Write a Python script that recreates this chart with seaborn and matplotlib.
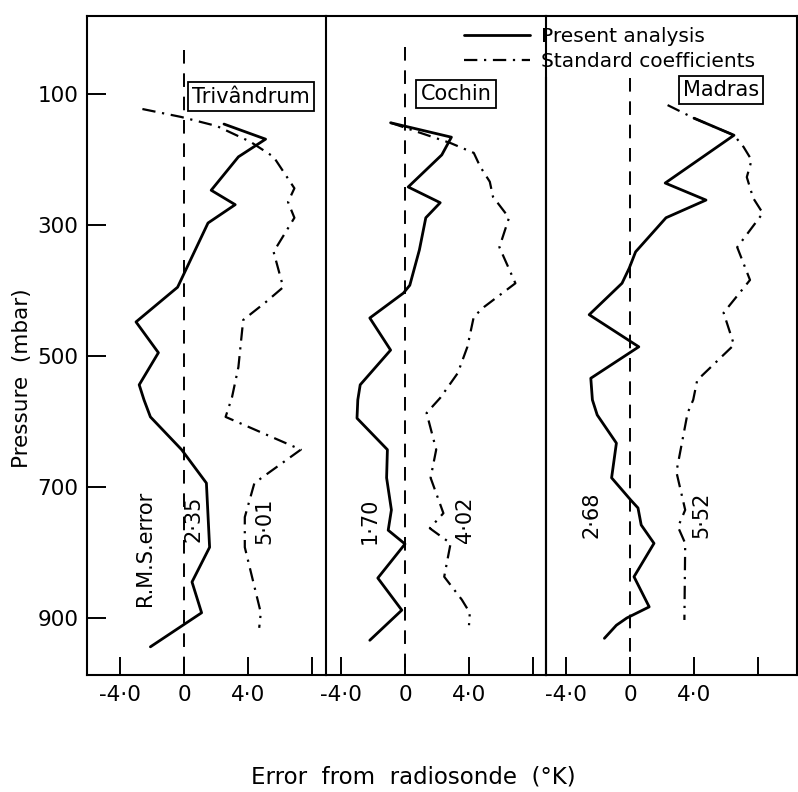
import numpy as np
import pandas as pd
import matplotlib.pyplot as plt
import seaborn as sns

# Values: pressure (mbar) and error (K) for each station
stations = ["Trivândrum", "Cochin", "Madras"]

triv_present_p = [146, 169, 196, 247, 269, 297, 395, 448, 495, 544, 567, 593, 643, 694, 792, 845, 892, 944]
triv_present_err = [2.5, 5.1, 3.4, 1.7, 3.2, 1.5, -0.4, -3.0, -1.6, -2.8, -2.5, -2.1, -0.15, 1.4, 1.6, 0.5, 1.1, -2.1]
triv_standard_p = [123, 135, 149, 173, 196, 244, 265, 289, 341, 395, 418, 445, 517, 563, 593, 643, 694, 746, 792, 892, 915]
triv_standard_err = [-2.6, -0.2, 2.05, 4.15, 5.6, 6.9, 6.5, 6.9, 5.6, 6.2, 5.1, 3.7, 3.4, 3.0, 2.6, 7.3, 4.4, 3.8, 3.8, 4.8, 4.7]

coch_present_p = [144, 166, 193, 242, 266, 289, 338, 392, 404, 442, 491, 544, 567, 595, 643, 686, 735, 766, 787, 839, 888, 934]
coch_present_err = [-0.9, 2.9, 2.3, 0.2, 2.2, 1.3, 0.9, 0.3, -0.1, -2.2, -0.9, -2.8, -2.95, -3.0, -1.1, -1.15, -0.85, -1.05, 0.0, -1.7, -0.2, -2.2]
coch_standard_p = [144, 175, 190, 211, 234, 257, 289, 334, 389, 425, 440, 486, 526, 564, 587, 643, 686, 740, 763, 786, 837, 872, 892, 911]
coch_standard_err = [-0.9, 2.85, 4.3, 4.7, 5.3, 5.5, 6.5, 5.9, 6.9, 4.95, 4.3, 3.9, 3.3, 2.2, 1.35, 1.95, 1.6, 2.4, 1.55, 2.85, 2.45, 3.55, 4.05, 4.0]

madr_present_p = [137, 163, 236, 262, 289, 341, 366, 389, 437, 486, 534, 567, 590, 633, 686, 720, 732, 758, 786, 837, 883, 900, 911, 931]
madr_present_err = [4.0, 6.5, 2.2, 4.75, 2.25, 0.35, -0.05, -0.5, -2.55, 0.55, -2.45, -2.35, -2.05, -0.85, -1.15, 0.05, 0.5, 0.7, 1.5, 0.25, 1.2, -0.2, -0.85, -1.6]
madr_standard_p = [117, 137, 163, 181, 201, 227, 259, 282, 334, 384, 434, 483, 537, 567, 587, 677, 735, 761, 786, 903]
madr_standard_err = [2.35, 4.0, 6.5, 7.1, 7.6, 7.3, 7.7, 8.3, 6.7, 7.5, 5.85, 6.5, 4.2, 3.95, 3.6, 2.9, 3.45, 3.0, 3.45, 3.4]

rms_present = ["2·35", "1·70", "2·68"]
rms_standard = ["5·01", "4·02", "5·52"]

pressure_ticks = [100, 300, 500, 700, 900]
error_ticks = [-4, 0, 4, 8]
error_ticklabels = ["-4·0", "0", "4·0", ""]

present = [(triv_present_p, triv_present_err), (coch_present_p, coch_present_err), (madr_present_p, madr_present_err)]
standard = [(triv_standard_p, triv_standard_err), (coch_standard_p, coch_standard_err), (madr_standard_p, madr_standard_err)]

sns.set_theme(style="white")
plt.rcParams["font.family"] = ["DejaVu Sans"]
plt.rcParams["text.color"] = "black"
plt.rcParams["xtick.color"] = "black"
plt.rcParams["ytick.color"] = "black"
plt.rcParams["xtick.labelcolor"] = "black"
plt.rcParams["ytick.labelcolor"] = "black"

W, H = 798, 792
fig = plt.figure(figsize=(W / 100, H / 100), dpi=100)

# panel layout in pixels: (left, right, x-position of zero)
panels = [(87, 326, 184), (326, 546, 405), (546, 797, 630)]
top_px, bot_px = 16, 675
px_per_k = 16.0
ylim = (987, -19)

# where the texts and zero lines sit in each panel
label_pos = [(4.2, 104), (3.19, 100), (5.69, 94)]
rms_present_pos = [(0.6, 749), (-2.18, 752), (-2.41, 743)]
rms_standard_pos = [(5.04, 752), (3.76, 750), (4.46, 743)]
zero_top = [33, 28, 76]

axes = []
for i, (l, r, z) in enumerate(panels):
    ax = fig.add_axes([l / W, 1 - bot_px / H, (r - l) / W, (bot_px - top_px) / H])
    ax.set_facecolor("none")
    axes.append(ax)
    ax.set_xlim((l - z) / px_per_k, (r - z) / px_per_k)
    ax.set_ylim(*ylim)

    p, e = present[i]
    sns.lineplot(x=e, y=p, sort=False, estimator=None, ax=ax, color="black", lw=2.0,
                 label="Present analysis" if i == 0 else None, legend=False)
    p, e = standard[i]
    sns.lineplot(x=e, y=p, sort=False, estimator=None, ax=ax, color="black", lw=1.6,
                 linestyle=(0, (6, 3, 1, 3)),
                 label="Standard coefficients" if i == 0 else None, legend=False)

    ax.plot([0, 0], [zero_top[i], ylim[0]], color="black", lw=1.4, dashes=(7, 5))

    ax.text(*label_pos[i], stations[i], fontsize=15, ha="center", va="center",
            bbox=dict(boxstyle="square,pad=0.2", fc="white", ec="black", lw=1.3))
    ax.text(*rms_present_pos[i], rms_present[i], fontsize=15, rotation=90, ha="center", va="center")
    ax.text(*rms_standard_pos[i], rms_standard[i], fontsize=15, rotation=90, ha="center", va="center")

    ax.set_xticks(error_ticks)
    ax.set_xticklabels(error_ticklabels, fontsize=15.5)
    ax.tick_params(axis="x", direction="in", length=13, width=1.4, pad=7, bottom=True, top=False)
    if i == 0:
        ax.set_yticks(pressure_ticks)
        ax.set_yticklabels([str(t) for t in pressure_ticks], fontsize=15.5)
        ax.tick_params(axis="y", direction="in", length=14, width=1.4, pad=6, left=True)
        ax.text(-2.46, 793, "R.M.S.error", fontsize=15, rotation=90, ha="center", va="center")
    else:
        ax.set_yticks([])
    ax.set_xlabel("")
    ax.set_ylabel("")
    for s in ax.spines.values():
        s.set_color("black")
        s.set_linewidth(1.5)
    if i > 0:
        ax.spines["left"].set_visible(False)

# the last divider stops below the legend
axes[2].spines["left"].set_visible(True)
axes[2].spines["left"].set_bounds(ylim[0], 76)

handles, labels = axes[0].get_legend_handles_labels()
fig.legend(handles, labels, loc="upper left", bbox_to_anchor=(464 / W, 1 - 27 / H),
           frameon=False, fontsize=14.5, handlelength=3.3, handletextpad=0.5,
           labelspacing=0.3, borderpad=0, borderaxespad=0)

fig.text(413 / W, 1 - 777 / H, "Error  from  radiosonde  (°K)", fontsize=16.5, ha="center", va="center")
fig.text(22 / W, 1 - 378 / H, "Pressure  (mbar)", fontsize=15.5, rotation=90, ha="center", va="center")

fig.savefig("out.png", dpi=100, facecolor="white")
